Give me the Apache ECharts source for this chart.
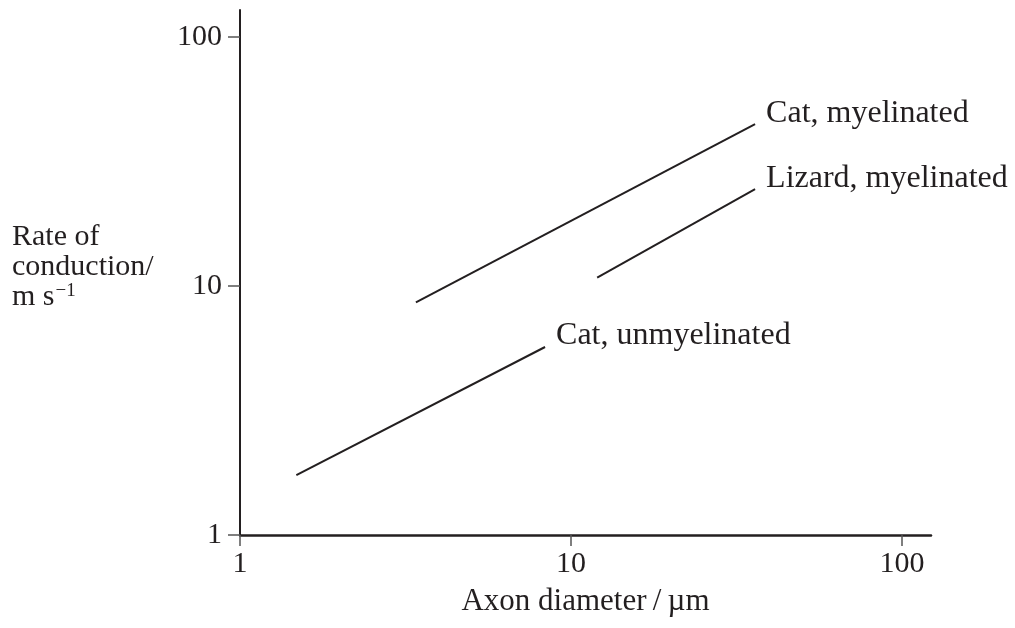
<!DOCTYPE html>
<html>
<head>
<meta charset="utf-8">
<script src="https://cdn.jsdelivr.net/npm/echarts@6/dist/echarts.min.js"></script>
<style>html,body{margin:0;padding:0;background:#fff;}#c{width:1015px;height:628px;}</style>
</head>
<body>
<div id="c"></div>
<script>
// Data (log–log): axon diameter (µm) vs rate of conduction (m/s)
const xTicks = [1, 10, 100];
const yTicks = [1, 10, 100];
const seriesNames = ['Cat, myelinated', 'Lizard, myelinated', 'Cat, unmyelinated'];
const catMyelinatedX = [3.4, 36];
const catMyelinatedY = [8.6, 44.7];
const lizardMyelinatedX = [12, 36];
const lizardMyelinatedY = [10.8, 24.5];
const catUnmyelinatedX = [1.48, 8.35];
const catUnmyelinatedY = [1.74, 5.69];
const xName = 'Axon diameter\u2009/\u2009µm';
const yNameLines = ['Rate of', 'conduction/', 'm s'];

const FONT = 'Liberation Serif';
const INK = '#231f20';

const chart = echarts.init(document.getElementById('c'), null, { renderer: 'canvas' });
const lineSeries = (name, xs, ys) => ({
  name, type: 'line', data: xs.map((x, i) => [x, ys[i]]), symbol: 'none', silent: true,
  lineStyle: { color: INK, width: 2 },
  endLabel: {
    show: true, offset: [6, -11], distance: 5,
    formatter: name, fontFamily: FONT, fontSize: 32, color: INK
  }
});

chart.setOption({
  animation: false,
  backgroundColor: '#fff',
  grid: { left: 240, top: 10, right: 84, bottom: 93, containLabel: false },
  xAxis: {
    type: 'log', logBase: 10, min: 1, max: 122.4,
    name: xName, nameLocation: 'middle', nameGap: 51,
    nameTextStyle: { fontFamily: FONT, fontSize: 31, color: INK },
    axisLine: { lineStyle: { color: INK, width: 2.5 } },
    axisTick: { show: true, inside: false, length: 11, customValues: xTicks, lineStyle: { color: '#555', width: 1.5 } },
    axisLabel: {
      fontFamily: FONT, fontSize: 30, color: INK, margin: 14, customValues: xTicks,
      formatter: v => String(Math.round(v))
    },
    splitLine: { show: false }, minorTick: { show: false }
  },
  yAxis: {
    type: 'log', logBase: 10, min: 1, max: 128.4,
    axisLine: { lineStyle: { color: INK, width: 2 } },
    axisTick: { show: true, inside: false, length: 12, customValues: yTicks, lineStyle: { color: '#555', width: 1.5 } },
    axisLabel: {
      fontFamily: FONT, fontSize: 30, color: INK, margin: 18, customValues: yTicks,
      formatter: v => String(Math.round(v))
    },
    splitLine: { show: false }, minorTick: { show: false }
  },
  graphic: [{
    type: 'text', left: 12, top: 222,
    style: {
      text: '{n|' + yNameLines[0] + '}\n{n|' + yNameLines[1] + '}\n{n|' + yNameLines[2] + '}{s|−1}',
      rich: {
        n: { fontFamily: FONT, fontSize: 30, lineHeight: 30, fill: INK },
        s: { fontFamily: FONT, fontSize: 19, lineHeight: 30, fill: INK, verticalAlign: 'top', padding: [0, 0, 14, 1] }
      }
    }
  }],
  series: [
    lineSeries(seriesNames[0], catMyelinatedX, catMyelinatedY),
    lineSeries(seriesNames[1], lizardMyelinatedX, lizardMyelinatedY),
    lineSeries(seriesNames[2], catUnmyelinatedX, catUnmyelinatedY)
  ]
});
</script>
</body>
</html>
